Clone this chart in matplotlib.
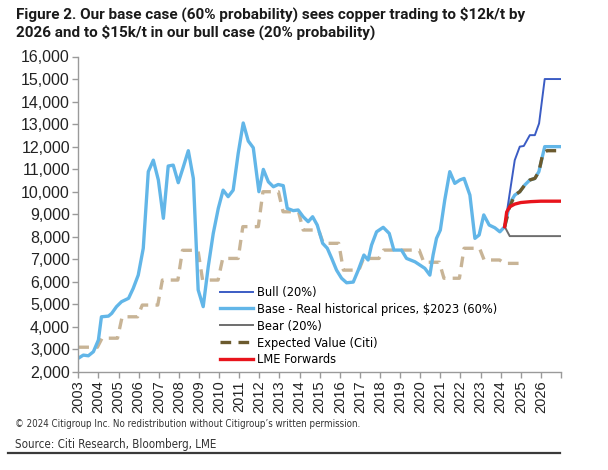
import matplotlib
matplotlib.use("Agg")
import matplotlib.pyplot as plt
from matplotlib import font_manager
from matplotlib.font_manager import FontProperties
from matplotlib.lines import Line2D

plt.rcParams['font.family'] = ['Liberation Sans', 'DejaVu Sans']

# look for a condensed face for legend / footer, else plain Roboto
narrow_file = None
for f in font_manager.fontManager.ttflist:
    if ('Narrow' in f.name or 'Condensed' in f.name or f.stretch in ('condensed', 'semi-condensed')) \
            and f.style == 'normal' and f.weight in (400, 'normal', 'regular'):
        narrow_file = f.fname
        break
have_narrow = narrow_file is not None


def narrow_font(size):
    if have_narrow:
        return FontProperties(fname=narrow_file, size=size)
    return FontProperties(family='Roboto', size=size * 0.9)


# historical real prices ($2023/t)
base_t = [2003.0, 2003.25, 2003.5, 2003.75, 2004.0, 2004.15, 2004.5, 2004.66, 2004.9,
          2005.15, 2005.5, 2005.73, 2005.98, 2006.23, 2006.48, 2006.73, 2006.98,
          2007.23, 2007.47, 2007.72, 2007.97, 2008.2, 2008.47, 2008.72, 2008.96,
          2009.21, 2009.46, 2009.71, 2009.96, 2010.2, 2010.45, 2010.7, 2010.95,
          2011.2, 2011.45, 2011.7, 2011.98, 2012.2, 2012.45, 2012.7, 2012.94,
          2013.19, 2013.39, 2013.69, 2013.93, 2014.18, 2014.43, 2014.65, 2014.88,
          2015.15, 2015.38, 2015.6, 2015.84, 2016.09, 2016.34, 2016.67, 2016.92,
          2017.2, 2017.41, 2017.58, 2017.83, 2018.16, 2018.46, 2018.69, 2019.07,
          2019.32, 2019.74, 2020.23, 2020.48, 2020.64, 2020.81, 2021.0, 2021.22,
          2021.47, 2021.72, 2021.97, 2022.18, 2022.47, 2022.72, 2022.93, 2023.16,
          2023.43, 2023.71, 2023.96, 2024.2]
base_v = [2610, 2750, 2720, 2900, 3420, 4450, 4480, 4600, 4900,
          5120, 5270, 5710, 6300, 7490, 10890, 11400, 10520,
          8820, 11140, 11180, 10400, 11040, 11820, 10590, 5640,
          4900, 6670, 8150, 9260, 10070, 9780, 10070, 11700,
          13050, 12250, 11950, 10000, 10990, 10440, 10220, 10320,
          10270, 9260, 9160, 9190, 8890, 8670, 8890, 8520,
          7710, 7490, 7040, 6520, 6160, 5960, 5990, 6520,
          7190, 6970, 7630, 8220, 8420, 8150, 7410, 7410,
          7040, 6890, 6600, 6300, 7190, 7930, 8300, 9630,
          10890, 10370, 10520, 10590, 9850, 7930, 8080, 8970,
          8520, 8400, 8220, 8450]

# past Citi yearly forecasts (tan dashed step line)
hist_years = [2003, 2004, 2005, 2006, 2007, 2008, 2009, 2010, 2011, 2012, 2013,
              2014, 2015, 2016, 2017, 2018, 2019, 2020, 2021, 2022, 2023, 2024]
hist_vals = [3100, 3500, 4450, 4970, 6080, 7400, 6080, 7040, 8450, 10000, 9110,
             8300, 7710, 6520, 7040, 7410, 7410, 6870, 6160, 7490, 6970, 6820]

# scenarios
bull_t = [2024.2, 2024.45, 2024.7, 2024.95, 2025.15, 2025.45, 2025.7, 2025.91, 2026.19, 2027.0]
bull_v = [8450, 9930, 11400, 12000, 12030, 12510, 12510, 13030, 15000, 15000]
basef_t = [2024.2, 2024.45, 2024.7, 2024.95, 2025.2, 2025.45, 2025.7, 2025.9, 2026.19, 2027.0]
basef_v = [8450, 9480, 9850, 10000, 10300, 10520, 10590, 10890, 12000, 12000]
bear_t = [2024.2, 2024.45, 2027.0]
bear_v = [8450, 8030, 8030]
ev_t = [2024.2, 2024.45, 2024.7, 2024.95, 2025.2, 2025.45, 2025.7, 2025.9, 2026.1, 2026.3, 2026.85]
ev_v = [8450, 9330, 9850, 10000, 10300, 10520, 10590, 10890, 11700, 11820, 11820]
lme_t = [2024.2, 2024.3, 2024.45, 2024.7, 2025.0, 2025.5, 2026.0, 2027.0]
lme_v = [8450, 9100, 9330, 9450, 9520, 9560, 9580, 9580]

years = list(range(2003, 2027))

c_bull = '#3b5cc4'
c_base = '#62b6e8'
c_bear = '#6e6e6e'
c_ev = '#6b5a2e'
c_lme = '#e8141c'
c_hist = '#c8b496'

fig = plt.figure(figsize=(6.08, 4.70), dpi=100)
ax = fig.add_axes([78.3 / 608, 1 - 372 / 470, (561 - 78.3) / 608, (372 - 56.5) / 470])

# tan step line for past forecasts
step_t, step_v = [], []
for y, v in zip(hist_years, hist_vals):
    step_t += [y + 0.18, y + 0.95]
    step_v += [v, v]
step_t[0] = 2003.0
ax.plot(step_t, step_v, color=c_hist, lw=2.4, dashes=(3.2, 2.2))

ax.plot(base_t + basef_t[1:], base_v + basef_v[1:], color=c_base, lw=2.4, solid_joinstyle='round')
ax.plot(bull_t, bull_v, color=c_bull, lw=1.4)
ax.plot(bear_t, bear_v, color=c_bear, lw=1.4)
ax.plot(ev_t, ev_v, color=c_ev, lw=2.4, dashes=(3.2, 2.2))
ax.plot(lme_t, lme_v, color=c_lme, lw=2.4)

ax.set_xlim(2003, 2027)
ax.set_ylim(2000, 16000)
ax.set_yticks(range(2000, 16001, 1000))
ax.set_yticklabels([f'{v:,}' for v in range(2000, 16001, 1000)])
ax.set_xticks(list(range(2003, 2028)))
ax.set_xticklabels([str(y) for y in years] + [''], rotation=90)

for s in ['top', 'right']:
    ax.spines[s].set_visible(False)
for s in ['left', 'bottom']:
    ax.spines[s].set_color('#9a9a9a')
    ax.spines[s].set_linewidth(1.0)
ax.tick_params(axis='y', colors='#9a9a9a', labelcolor='#222222', labelsize=11.5,
               length=4, width=1.0, pad=2)
ax.tick_params(axis='x', colors='#9a9a9a', labelcolor='#222222', labelsize=10.5,
               length=4, width=1.0, pad=2)

handles = [Line2D([], [], color=c_bull, lw=1.4),
           Line2D([], [], color=c_base, lw=2.4),
           Line2D([], [], color=c_bear, lw=1.4),
           Line2D([], [], color=c_ev, lw=2.4, dashes=(3.2, 2.2)),
           Line2D([], [], color=c_lme, lw=2.4)]
labels = ['Bull (20%)', 'Base - Real historical prices, $2023 (60%)', 'Bear (20%)',
          'Expected Value (Citi)', 'LME Forwards']
leg_font = narrow_font(9.2)
fig.legend(handles, labels, loc='upper left', bbox_to_anchor=(220 / 608, 1 - 286 / 470),
           frameon=False, borderpad=0, borderaxespad=0,
           handlelength=33 / leg_font.get_size_in_points() / (100 / 72),
           handletextpad=0.3, labelspacing=0.3, prop=leg_font)

fig.text(16 / 608, 1 - 7 / 470,
         'Figure 2. Our base case (60% probability) sees copper trading to $12k/t by\n'
         '2026 and to $15k/t in our bull case (20% probability)',
         ha='left', va='top', fontsize=11.0, fontweight='bold', family='Roboto',
         color='#1a1a1a', linespacing=1.22)
fig.text(15 / 608, 1 - 427 / 470,
         '\u00a9 2024 Citigroup Inc. No redistribution without Citigroup\u2019s written permission.',
         ha='left', va='baseline', fontproperties=narrow_font(7.0), color='#333333')
fig.text(15 / 608, 1 - 448 / 470, 'Source: Citi Research, Bloomberg, LME',
         ha='left', va='baseline', fontproperties=narrow_font(8.3), color='#333333')
fig.add_artist(Line2D([8 / 608, 560 / 608], [1 - 453 / 470, 1 - 453 / 470],
                      color='#3a3a3a', lw=1.6))

fig.savefig('out.png', dpi=100)
